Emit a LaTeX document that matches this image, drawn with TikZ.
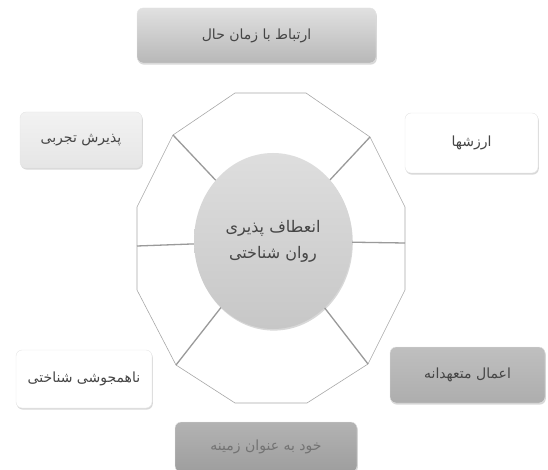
\documentclass[tikz,border=0pt]{standalone}
\usepackage{fontspec}
\newfontfamily\fa[Script=Arabic]{DejaVu Sans}
\TeXXeTstate=1
\usetikzlibrary{shapes.geometric,shadows}
\definecolor{poly}{HTML}{A8A8A8}
\definecolor{spoke}{HTML}{9A9A9A}
\definecolor{txt}{HTML}{454545}
\tikzset{
  box/.style={rounded corners=6pt, draw=black!10, line width=0.4pt, text=txt,
    font=\fa\fontsize{14}{16}\selectfont,
    drop shadow={shadow xshift=0.8pt, shadow yshift=-1.6pt, fill=black!30, opacity=0.5}},
  polyline/.style={draw=poly, line width=0.6pt},
  spokeline/.style={draw=spoke, line width=1.3pt},
}
\begin{document}
\begin{tikzpicture}[x=1pt,y=-1pt]
\useasboundingbox (0,0) rectangle (548,470);
% polygon vertices
\coordinate (p1) at (235,93);
\coordinate (p2) at (306,93);
\coordinate (p3) at (370,137);
\coordinate (p4) at (405,207);
\coordinate (p5) at (405,290);
\coordinate (p6) at (368,364);
\coordinate (p7) at (307,403);
\coordinate (p8) at (235,403);
\coordinate (p9) at (176,365);
\coordinate (p10) at (137,290);
\coordinate (p11) at (137,207);
\coordinate (p12) at (173,135);
\coordinate (ml) at (137,246);
\coordinate (mr) at (405,243);
\draw[polyline, fill=white] (p1) -- (p2) -- (p3) -- (p4) -- (p5) -- (p6) -- (p7) -- (p8) -- (p9) -- (p10) -- (p11) -- (p12) -- cycle;
% centre
\node[ellipse, minimum width=158pt, minimum height=176pt, inner sep=0pt,
  top color=black!13, bottom color=black!22, draw=none,
  drop shadow={shadow xshift=0.8pt, shadow yshift=-1.6pt, fill=black!30, opacity=0.5},
  text=txt, align=center, font=\fa\fontsize{16}{26}\selectfont] (c) at (273,241)
  {\beginR انعطاف پذیری\endR\\\beginR روان شناختی\endR};
\draw[spokeline] (p12) -- (c);
\draw[spokeline] (p3) -- (c);
\draw[spokeline] (p6) -- (c);
\draw[spokeline] (p9) -- (c);
\draw[spokeline] (ml) -- (c);
\draw[spokeline] (mr) -- (c);
% boxes
\node[box, minimum width=239pt, minimum height=55pt, top color=black!12, bottom color=black!28] (top) at (256.5,35.5)
  {\beginR ارتباط با زمان حال\endR};
\node[box, minimum width=122pt, minimum height=56pt, top color=black!5, bottom color=black!10] (ul) at (81,140)
  {\beginR پذیرش تجربی\endR};
\node[box, minimum width=133pt, minimum height=60pt, fill=white] (ur) at (471.5,143)
  {\beginR ارزشها\endR};
\node[box, minimum width=136pt, minimum height=58pt, fill=white] (ll) at (84,379)
  {\beginR ناهمجوشی شناختی\endR};
\node[box, minimum width=155pt, minimum height=56pt, top color=black!25, bottom color=black!32] (lr) at (467.5,375)
  {\beginR اعمال متعهدانه\endR};
\node[box, minimum width=182pt, minimum height=50pt, top color=black!30, bottom color=black!38, text=black!55] (bot) at (266,447)
  {\beginR خود به عنوان زمینه\endR};
\end{tikzpicture}
\end{document}
